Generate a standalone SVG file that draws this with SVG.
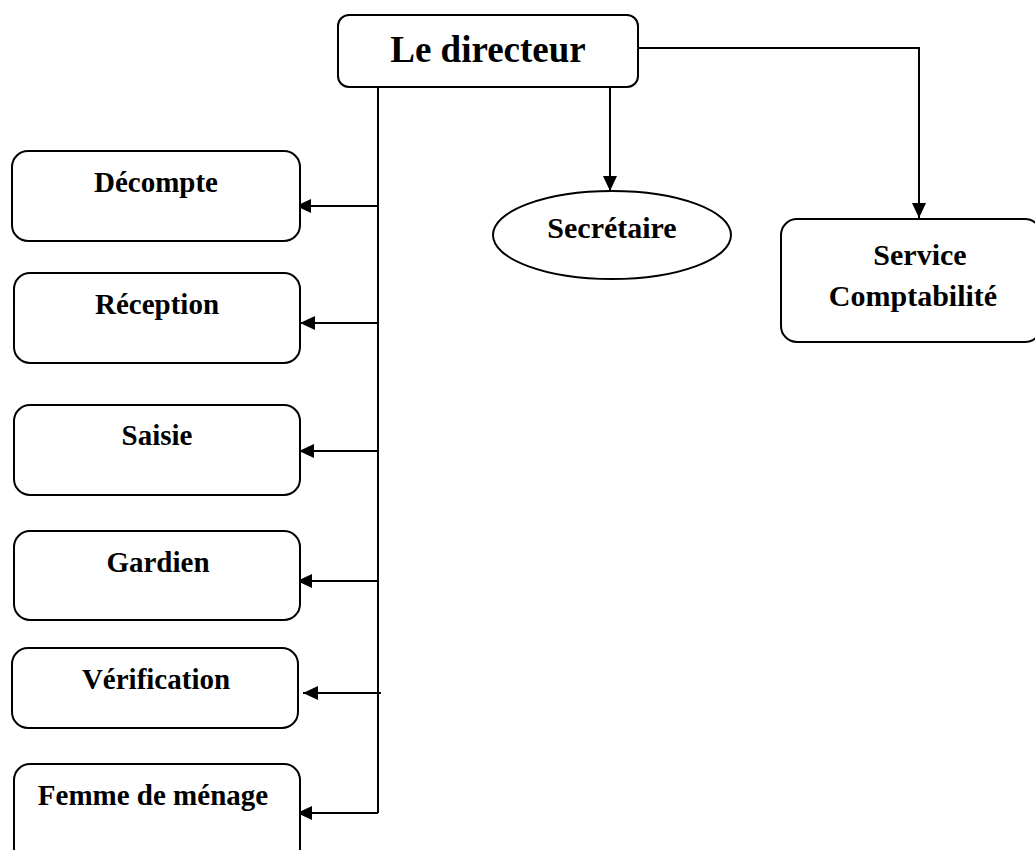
<svg xmlns="http://www.w3.org/2000/svg" width="1035" height="850" viewBox="0 0 1035 850">
<style>
.box{fill:#fff;stroke:#000;stroke-width:2}
.t{font-family:"Liberation Serif","Times New Roman",serif;font-weight:bold;fill:#000;text-anchor:middle}
.c{fill:none;stroke:#000;stroke-width:2}
</style>
<defs>
<marker id="ah" markerUnits="userSpaceOnUse" markerWidth="16" markerHeight="14" refX="15" refY="7" orient="auto">
<path d="M0,0 L15,7 L0,14 Z" fill="#000"/>
</marker>
</defs>
<rect width="1035" height="850" fill="#fff"/>
<g id="connectors">
<line class="c" x1="378" y1="87" x2="378" y2="813"/>
<line class="c" x1="378" y1="206" x2="296" y2="206" marker-end="url(#ah)"/>
<line class="c" x1="378" y1="323" x2="300" y2="323" marker-end="url(#ah)"/>
<line class="c" x1="378" y1="451" x2="299" y2="451" marker-end="url(#ah)"/>
<line class="c" x1="378" y1="581" x2="297" y2="581" marker-end="url(#ah)"/>
<line class="c" x1="381" y1="693" x2="303" y2="693" marker-end="url(#ah)"/>
<line class="c" x1="378" y1="813" x2="297" y2="813" marker-end="url(#ah)"/>
<line class="c" x1="610" y1="87" x2="610" y2="191" marker-end="url(#ah)"/>
<polyline class="c" points="638,48 919,48 919,218" marker-end="url(#ah)"/>
</g>
<g id="directeur">
<rect class="box" x="338" y="15" width="300" height="72" rx="11"/>
<text class="t" x="488" y="62" font-size="37">Le directeur</text>
</g>
<g id="secretaire">
<ellipse class="box" cx="612" cy="235" rx="119" ry="44"/>
<text class="t" x="612" y="238" font-size="30">Secrétaire</text>
</g>
<g id="service">
<rect class="box" x="781" y="219" width="260" height="123" rx="16"/>
<text class="t" x="920" y="265" font-size="30">Service</text>
<text class="t" x="913" y="306" font-size="30">Comptabilité</text>
</g>
<g id="decompte">
<rect class="box" x="12" y="151" width="288" height="90" rx="16"/>
<text class="t" x="156" y="192" font-size="29">Décompte</text>
</g>
<g id="reception">
<rect class="box" x="14" y="273" width="286" height="90" rx="16"/>
<text class="t" x="157" y="314" font-size="29">Réception</text>
</g>
<g id="saisie">
<rect class="box" x="14" y="405" width="286" height="90" rx="16"/>
<text class="t" x="157" y="445" font-size="29">Saisie</text>
</g>
<g id="gardien">
<rect class="box" x="14" y="531" width="286" height="89" rx="16"/>
<text class="t" x="158" y="572" font-size="29">Gardien</text>
</g>
<g id="verification">
<rect class="box" x="12" y="648" width="286" height="80" rx="16"/>
<text class="t" x="156" y="689" font-size="29">Vérification</text>
</g>
<g id="femme">
<rect class="box" x="14" y="764" width="286" height="100" rx="16"/>
<text class="t" x="153" y="805" font-size="29">Femme de ménage</text>
</g>
</svg>
